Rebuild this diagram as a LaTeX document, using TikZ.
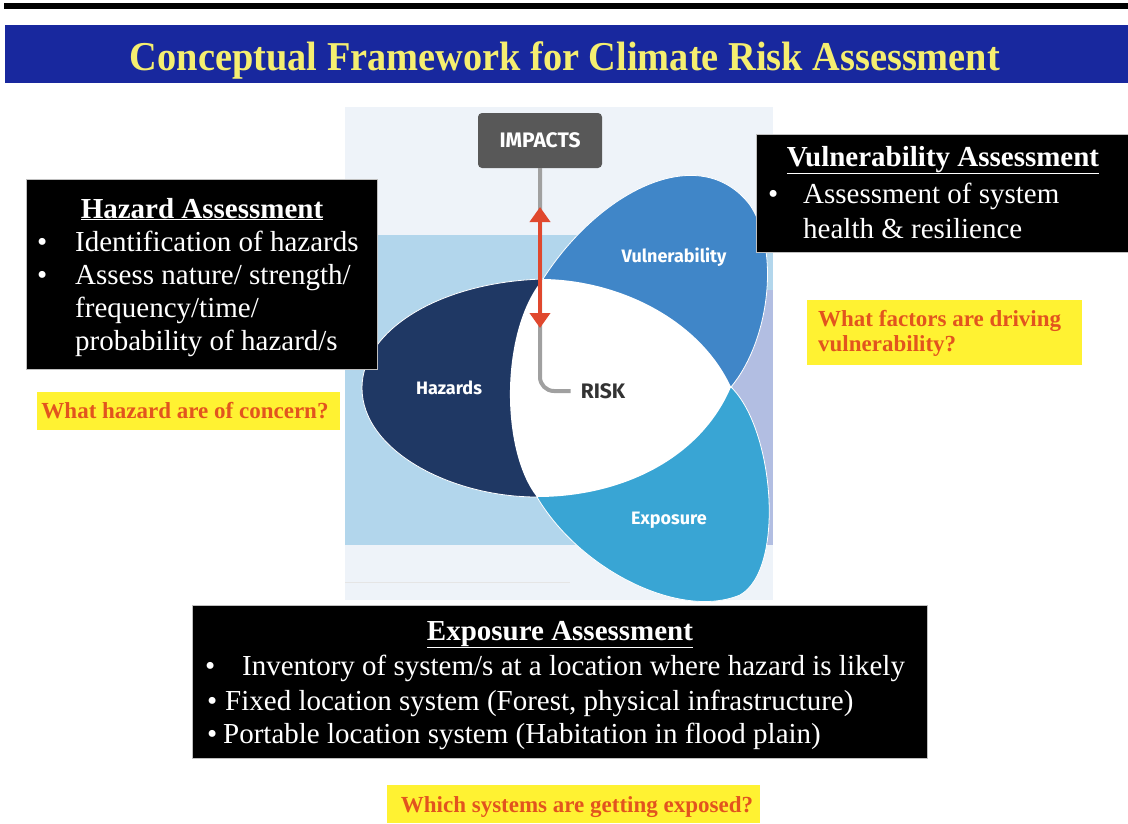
\documentclass[tikz,border=0pt]{standalone}
\usepackage{fontspec}
\setmainfont{Liberation Serif}
\newfontfamily\diagfont{Fira Sans}
\usetikzlibrary{arrows.meta}

\definecolor{titleblue}{RGB}{24,40,158}
\definecolor{titleyellow}{RGB}{245,238,112}
\definecolor{panelcol}{RGB}{238,243,249}
\definecolor{bandcol}{RGB}{178,214,236}
\definecolor{lavcol}{RGB}{178,190,226}
\definecolor{hazcol}{RGB}{31,56,100}
\definecolor{vulcol}{RGB}{64,134,200}
\definecolor{expcol}{RGB}{57,165,212}
\definecolor{impgray}{RGB}{88,88,88}
\definecolor{linkgray}{RGB}{160,160,160}
\definecolor{arrowred}{RGB}{224,72,46}
\definecolor{qyellow}{RGB}{255,242,50}
\definecolor{qred}{RGB}{226,84,30}

\tikzset{
  darkbox/.style={fill=black, draw=gray!50, line width=0.6pt, inner sep=0pt, outer sep=0pt, anchor=north west},
  qbox/.style={fill=qyellow, inner sep=0pt, outer sep=0pt, anchor=north west},
  boxhead/.style={text=white, font=\fontsize{29}{33}\selectfont\bfseries, anchor=base, inner sep=0pt},
  boxtxt/.style={text=white, font=\fontsize{29}{33}\selectfont, anchor=base west, inner sep=0pt},
  qtxt/.style={text=qred, font=\fontsize{23}{26}\selectfont\bfseries, inner sep=0pt},
  petal/.style={draw=white, line width=0.8pt},
  petallabel/.style={text=white, font=\diagfont\bfseries\fontsize{18}{20}\selectfont},
}

\begin{document}
\begin{tikzpicture}[x=1pt, y=-1pt]
\useasboundingbox (0,0) rectangle (1128,823);
\fill[white] (0,0) rectangle (1128,823);

% title band
\fill[black] (4,3) rectangle (1128,9);
\fill[titleblue] (5,25) rectangle (1128,83);
\node[text=titleyellow, font=\fontsize{41}{41}\selectfont\bfseries, anchor=base, inner sep=0pt] (title) at (565,70)
  {\resizebox{870pt}{\height}{Conceptual Framework for Climate Risk Assessment}};

% diagram panel
\fill[panelcol] (345,107) rectangle (773,600);
\fill[bandcol] (345,235) rectangle (773,545);
\fill[lavcol] (733,290) rectangle (773,545);
\draw[gray!20, line width=1pt] (345,582) -- (570,582);

% petals
\path[petal, fill=hazcol] (543,279) .. controls (440,282) and (362,330) .. (362,388)
  .. controls (362,450) and (450,497) .. (537,497) -- cycle;
\path[petal, fill=vulcol] (543,279) .. controls (600,190) and (700,140) .. (750,205)
  .. controls (780,250) and (770,340) .. (731,387) -- cycle;
\path[petal, fill=expcol] (537,497) .. controls (580,570) and (680,620) .. (740,595)
  .. controls (785,570) and (775,430) .. (731,387) -- cycle;
\fill[white] (543,279) .. controls (620,280) and (700,320) .. (731,387)
  .. controls (700,460) and (620,497) .. (537,497)
  .. controls (500,450) and (500,330) .. (543,279);

\node[petallabel] (haz) at (449,388) {Hazards};
\node[petallabel] (vul) at (674,257) {Vulnerability};
\node[petallabel] (exp) at (669,520) {Exposure};

% impacts and risk
\node[fill=impgray, rounded corners=4pt, minimum width=124pt, minimum height=55pt, inner sep=0pt,
  text=white, font=\diagfont\bfseries\fontsize{21}{22}\selectfont] (impacts) at (540,140.5) {IMPACTS};
\node[text=black!80, font=\diagfont\bfseries\fontsize{21}{22}\selectfont, inner sep=0pt] (risk) at (603,391) {RISK};
\draw[linkgray, line width=4pt, rounded corners=14pt, shorten >=10pt] (impacts.south) |- (risk.west);

\coordinate (arrtop) at (540,207);
\coordinate (arrbot) at (540,328);
\draw[arrowred, line width=4.5pt, {Triangle[width=20pt,length=15pt]}-{Triangle[width=20pt,length=15pt]}] (arrtop) -- (arrbot);

% hazard assessment
\node[darkbox, minimum width=351pt, minimum height=190pt] (hazbox) at (26,179) {};
\node[boxhead] (hazhead) at (202,218) {\underline{Hazard Assessment}};
\node[boxtxt] (hazb1) at (37,251) {\textbullet};
\node[boxtxt] (haz1) at (75,251) {Identification of hazards};
\node[boxtxt] (hazb2) at (37,284) {\textbullet};
\node[boxtxt] (haz2) at (75,284) {Assess nature/ strength/};
\node[boxtxt] (haz3) at (75,317) {frequency/time/};
\node[boxtxt] (haz4) at (75,350) {probability of hazard/s};

\node[qbox, minimum width=303pt, minimum height=38pt] (hazq) at (37,392) {};
\node[qtxt] (hazqtxt) at (185,411) {What hazard are of concern?};

% vulnerability assessment
\node[darkbox, minimum width=372pt, minimum height=118pt] (vulbox) at (756,134) {};
\node[boxhead] (vulhead) at (943,166) {\underline{Vulnerability Assessment}};
\node[boxtxt] (vulb1) at (768,203) {\textbullet};
\node[boxtxt] (vul1) at (803,203) {Assessment of system};
\node[boxtxt] (vul2) at (803,238) {health \& resilience};

\node[qbox, minimum width=275pt, minimum height=65pt] (vulq) at (807,300) {};
\node[qtxt, anchor=base west] (vulq1) at (818,326) {What factors are driving};
\node[qtxt, anchor=base west] (vulq2) at (818,351) {vulnerability?};

% exposure assessment
\node[darkbox, minimum width=735pt, minimum height=153pt] (expbox) at (192,605) {};
\node[boxhead] (exphead) at (560,640) {\underline{Exposure Assessment}};
\node[boxtxt] (expb1) at (205,675) {\textbullet};
\node[boxtxt] (exp1) at (242,675) {Inventory of system/s at a location where hazard is likely};
\node[boxtxt] (expb2) at (207,710) {\textbullet};
\node[boxtxt] (exp2) at (225,710) {Fixed location system (Forest, physical infrastructure)};
\node[boxtxt] (expb3) at (207,743) {\textbullet};
\node[boxtxt] (exp3) at (223,743) {Portable location system (Habitation in flood plain)};

\node[qbox, minimum width=373pt, minimum height=38pt] (expq) at (387,785) {};
\node[qtxt, anchor=base] (expqtxt) at (577,812) {Which systems are getting exposed?};
\end{tikzpicture}
\end{document}
